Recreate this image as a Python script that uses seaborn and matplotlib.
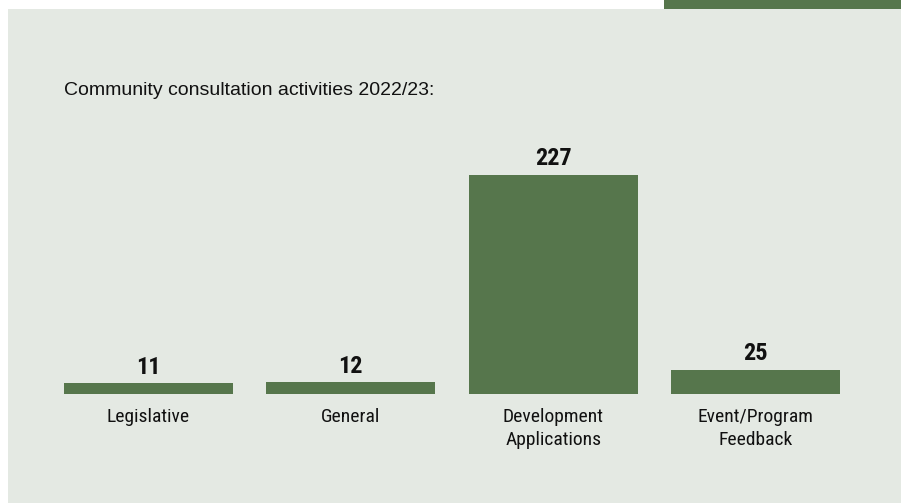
import matplotlib
matplotlib.use("Agg")
import matplotlib.pyplot as plt
import matplotlib.patches as mpatches
import seaborn as sns
import pandas as pd

categories = ["Legislative", "General", "Development\nApplications", "Event/Program\nFeedback"]
counts = [11, 12, 227, 25]
title = "Community consultation activities 2022/23:"

BG = "#e4e9e3"
GREEN = "#56764c"
W, H = 901, 503

sns.set_theme(style="white")
plt.rcParams["font.family"] = ["Liberation Sans", "DejaVu Sans"]
narrow = ["Roboto Condensed", "Liberation Sans Narrow", "Roboto", "DejaVu Sans"]

fig = plt.figure(figsize=(W / 100, H / 100), dpi=100)
fig.patch.set_facecolor("white")

# panel background and accent strip
fig.patches.append(mpatches.Rectangle((8 / W, 0), 1 - 8 / W, 1 - 9 / H,
                                      transform=fig.transFigure, facecolor=BG,
                                      edgecolor="none", zorder=-2))
fig.patches.append(mpatches.Rectangle((664 / W, 1 - 9 / H), 1 - 664 / W, 9 / H,
                                      transform=fig.transFigure, facecolor=GREEN,
                                      edgecolor="none", zorder=-2))

left, right = 47.3, 856.7
bottom_px, top_px = 394, 143
ax = fig.add_axes([left / W, (H - bottom_px) / H, (right - left) / W, (bottom_px - top_px) / H])
ax.set_facecolor("none")
ax.set_zorder(1)

df = pd.DataFrame({"category": categories, "count": counts})
sns.barplot(data=df, x="category", y="count", color=GREEN, saturation=1,
            width=0.835, ax=ax, edgecolor="none")
ax.set_xlim(-0.5, 3.5)
ax.set_ylim(0, 260)

ax.bar_label(ax.containers[0], labels=[str(v) for v in counts], padding=3.5,
             fontsize=17.5, fontweight="bold", family=narrow,
             fontstretch="condensed", color="#111111")

ax.set_xlabel("")
ax.set_ylabel("")
ax.set_yticks([])
ax.tick_params(axis="x", length=0, pad=10)
for lbl in ax.get_xticklabels():
    lbl.set_fontfamily(narrow)
    lbl.set_fontstretch("condensed")
    lbl.set_fontsize(14)
    lbl.set_color("#111111")
    lbl.set_linespacing(1.36)
sns.despine(ax=ax, left=True, bottom=True)

fig.text(64 / W, 1 - 90 / H, title, fontsize=14, color="#111111",
         ha="left", va="center")

fig.savefig("out.png", dpi=100, facecolor=fig.get_facecolor())
